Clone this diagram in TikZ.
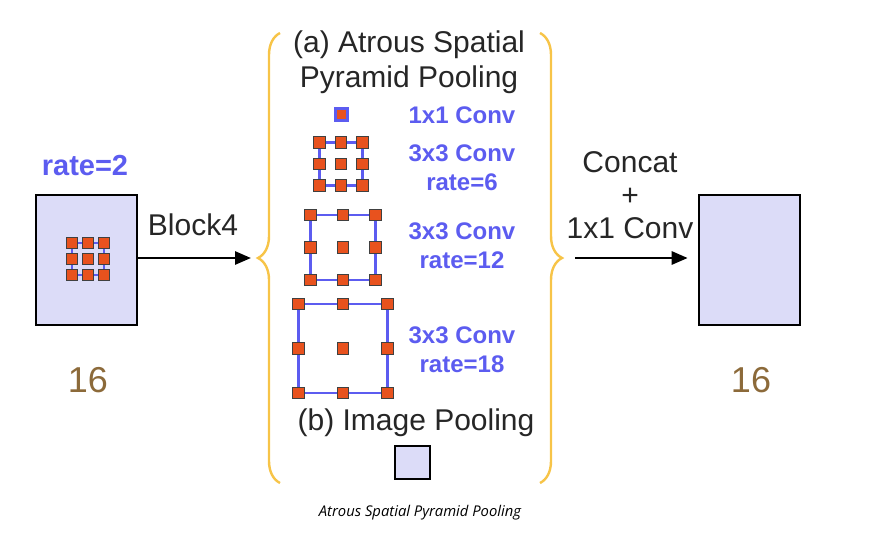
\documentclass[tikz,border=0pt]{standalone}
\usepackage{fontspec}
\setmainfont{Liberation Sans}
\newfontfamily\capfont{Open Sans}
\usetikzlibrary{arrows.meta,shapes,decorations.pathreplacing}
\definecolor{lavender}{RGB}{220,220,248}
\definecolor{convblue}{RGB}{92,92,240}
\definecolor{taporange}{RGB}{232,82,30}
\definecolor{sizebrown}{RGB}{140,106,58}
\definecolor{braceyellow}{RGB}{247,196,72}
\tikzstyle{fmap}=[draw=black,line width=1.3pt,fill=lavender,inner sep=0pt]
\tikzstyle{tap}=[draw=black!75,fill=taporange,minimum size=5.8pt,inner sep=0pt,line width=0.5pt]
\tikzstyle{field}=[draw=convblue,line width=1.1pt]
\tikzstyle{convtext}=[text=convblue,font=\bfseries\fontsize{12}{14.5}\selectfont,align=center]
\tikzstyle{plaintext}=[text=black!85,font=\fontsize{15}{16.5}\selectfont,align=center]
\tikzstyle{sizetext}=[text=sizebrown,font=\fontsize{18}{22}\selectfont]
\tikzstyle{flow}=[draw,line width=1.4pt,-{Triangle[length=8pt,width=6.5pt]}]
\tikzstyle{bracket}=[draw=braceyellow,line width=1.2pt,decorate,decoration={brace,amplitude=11pt}]

\begin{document}
\begin{tikzpicture}[x=0.5pt,y=-0.5pt]
    \useasboundingbox (0,0) rectangle (886,535);
    % Input and output feature maps
    \node[fmap,minimum width=50.5pt,minimum height=65pt] (inbox) at (86.5,260) {};
    \node[fmap,minimum width=50.5pt,minimum height=65pt] (outbox) at (749.5,260) {};
    \node[fmap,minimum width=17.5pt,minimum height=16.5pt] (poolbox) at (412.5,462.5) {};
    % Sampling grids, one per rate
    \foreach \cx/\cy/\sp/\name in {88/259/16/ra, 341/164/21.5/rb, 343/247.5/32.5/rc, 343/348.5/44.5/rd} {
        \draw[field] ({\cx-\sp},{\cy-\sp}) rectangle ({\cx+\sp},{\cy+\sp});
        \foreach \i in {1,2,3}
            \foreach \j in {1,2,3}
                \node[tap] (\name\i\j) at ({\cx+(\i-2)*\sp},{\cy+(\j-2)*\sp}) {};
    }
    \node[tap,draw=convblue,line width=1.5pt,minimum size=6pt] (one) at (341,114) {};
    % Texts
    \node[convtext,font=\bfseries\fontsize{14.5}{15}\selectfont] (rate) at (85,166) {rate=2};
    \node[sizetext] (insize) at (88,380) {16};
    \node[sizetext] (outsize) at (751,380) {16};
    \node[plaintext] (block) at (193,225) {Block4};
    \node[plaintext] (merge) at (630,195) {Concat\\+\\1x1 Conv};
    \node[plaintext,font=\fontsize{15}{17.5}\selectfont] (aspp) at (409,62) {(a) Atrous Spatial\\Pyramid Pooling};
    \node[plaintext,font=\fontsize{15}{17.5}\selectfont] (pool) at (416,423) {(b) Image Pooling};
    \foreach \pos/\name/\txt in {{(462,115)/c1/1x1 Conv}, {(462,167.5)/c6/3x3 Conv\\rate=6},
        {(462,246)/c12/3x3 Conv\\rate=12}, {(462,350)/c18/3x3 Conv\\rate=18}}
        \node[convtext] (\name) at \pos {\txt};
    \node[font=\capfont\itshape\fontsize{7.4}{9}\selectfont] (caption) at (420,513) {Atrous Spatial Pyramid Pooling};
    % Braces round the parallel branches
    \draw[bracket] (280,483) -- (280,33);
    \draw[bracket] (540,33) -- (540,483);
    \coordinate (lbrace) at (251,258);
    \coordinate (rbrace) at (575,258);
    % Arrows in and out
    \path[flow] (inbox.east |- lbrace) -- (lbrace);
    \path[flow,shorten >=5pt] (rbrace) -- (outbox.west |- rbrace);
\end{tikzpicture}
\end{document}
